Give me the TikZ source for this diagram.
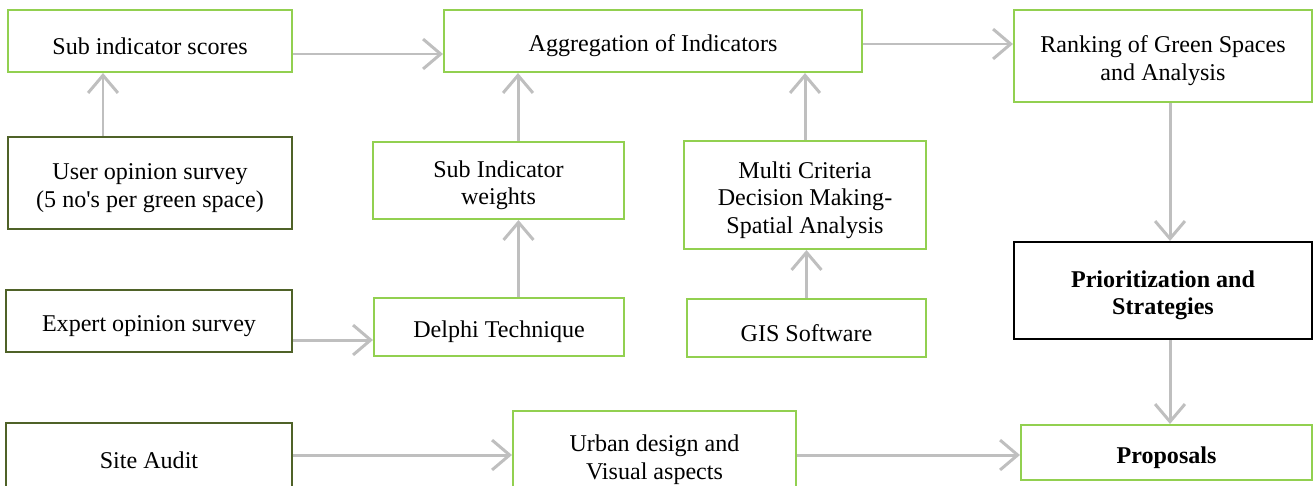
\documentclass[tikz,border=0pt]{standalone}
\usepackage{fontspec}
\setmainfont{Liberation Serif}
\usepackage{xcolor}
\usetikzlibrary{arrows.meta, positioning}
\definecolor{lightgreen}{HTML}{92D050}
\definecolor{darkolive}{HTML}{4F6228}
\definecolor{arrowgrey}{HTML}{BFBFBF}
\newcommand{\lowstrut}{\rule{0pt}{15pt}}

\begin{document}
\begin{tikzpicture}[
        box/.style={draw=lightgreen, line width=1.2pt, align=center, inner sep=2pt, font=\fontsize{13.7pt}{15.6pt}\selectfont,
            execute at begin node={\lowstrut}},
        darkbox/.style={box, draw=darkolive},
        arrow/.style={arrowgrey, line width=1.7pt, -{Straight Barb[length=10pt, width=17pt]}}
    ]
        \useasboundingbox (0,0) rectangle (26.28,-9.70);
        \clip (0,0) rectangle (26.28,-9.70);

        % top row
        \node[box, minimum width=5.68cm, minimum height=1.24cm] (scores) at (3.00,-0.82) {Sub indicator scores};
        \node[box, minimum width=8.36cm, minimum height=1.24cm] (aggr) at (13.06,-0.82) {Aggregation of Indicators};
        \node[box, minimum width=5.96cm, minimum height=1.84cm] (rank) at (23.26,-1.12) {\lowstrut Ranking of Green Spaces\\and Analysis};

        % second row
        \node[darkbox, minimum width=5.68cm, minimum height=1.84cm] (user) at (3.00,-3.66) {\lowstrut User opinion survey\\(5 no\textquotesingle s per green space)};
        \node[box, minimum width=5.02cm, minimum height=1.54cm] (weights) at (9.97,-3.61) {\lowstrut Sub Indicator\\weights};
        \node[box, minimum width=4.84cm, minimum height=2.16cm] (mcdm) at (16.10,-3.90) {\lowstrut Multi Criteria\\Decision Making-\\Spatial Analysis};
        \node[box, draw=black, minimum width=5.96cm, minimum height=1.94cm, font=\fontsize{13.7pt}{15.6pt}\selectfont\bfseries] (prio) at (23.26,-5.81) {\lowstrut Prioritization and\\Strategies};

        % third row
        \node[darkbox, minimum width=5.72cm, minimum height=1.24cm] (expert) at (2.98,-6.42) {Expert opinion survey};
        \node[box, minimum width=5.00cm, minimum height=1.16cm] (delphi) at (9.98,-6.54) {Delphi Technique};
        \node[box, minimum width=4.78cm, minimum height=1.16cm] (gis) at (16.13,-6.56) {GIS Software};

        % bottom row
        \node[darkbox, minimum width=5.72cm, minimum height=1.28cm] (site) at (2.98,-9.10) {Site Audit};
        \node[box, minimum width=5.66cm, minimum height=1.76cm] (urban) at (13.09,-9.10) {\lowstrut Urban design and\\Visual aspects};
        \node[box, minimum width=5.82cm, minimum height=1.10cm, font=\fontsize{13.7pt}{15.6pt}\selectfont\bfseries] (prop) at (23.33,-9.05) {Proposals};

        \draw[arrow] ([xshift=-0.94cm]user.north) -- ([xshift=-0.94cm]user.north |- scores.south);
        \draw[arrow] ([yshift=-0.26cm]scores.east) -- ([yshift=-0.26cm]scores.east -| aggr.west);
        \draw[arrow] ([yshift=-0.06cm]aggr.east) -- ([yshift=-0.06cm]aggr.east -| rank.west);
        \draw[arrow] ([xshift=0.39cm]delphi.north) -- ([xshift=0.39cm]delphi.north |- weights.south);
        \draw[arrow] ([xshift=0.39cm]weights.north) -- ([xshift=0.39cm]weights.north |- aggr.south);
        \draw[arrow] (gis.north) -- (gis.north |- mcdm.south);
        \draw[arrow] (mcdm.north) -- (mcdm.north |- aggr.south);
        \draw[arrow] ([yshift=-0.38cm]expert.east) -- ([yshift=-0.38cm]expert.east -| delphi.west);
        \draw[arrow] ([xshift=0.14cm]rank.south) -- ([xshift=0.14cm]rank.south |- prio.north);
        \draw[arrow] ([xshift=0.14cm]prio.south) -- ([xshift=0.14cm]prio.south |- prop.north);
        \draw[arrow] (site.east) -- (site.east -| urban.west);
        \draw[arrow] (urban.east) -- (urban.east -| prop.west);
    \end{tikzpicture}
\end{document}
